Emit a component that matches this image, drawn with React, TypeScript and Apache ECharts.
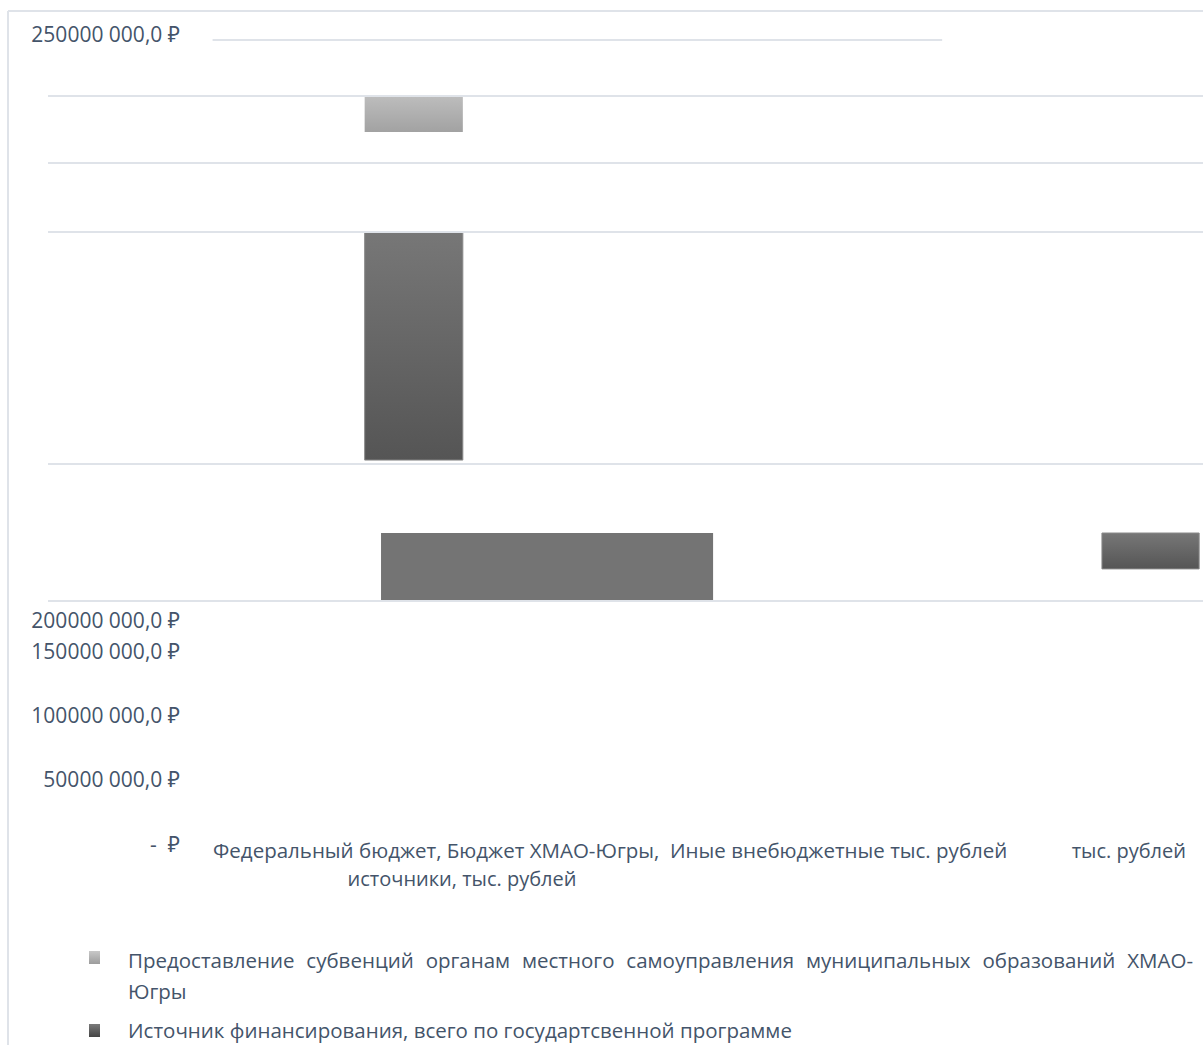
import React, { useEffect, useRef } from "react";
import * as echarts from "echarts";

// Series names (legend)
const seriesNames = [
  "Предоставление субвенций органам местного самоуправления муниципальных образований ХМАО-Югры",
  "Источник финансирования, всего по государтсвенной программе",
];

// Value-axis tick labels, as printed on the left
const yTickLabels = ["250000 000,0 ₽", "200000 000,0 ₽", "150000 000,0 ₽", "100000 000,0 ₽", "50000 000,0 ₽", "-  ₽"];

// Category labels: first row (left run and right-hand fragment) and the wrapped second row
const categoryRow1 = ["Федеральный бюджет, Бюджет ХМАО-Югры,  Иные внебюджетные тыс. рублей", "тыс. рублей"];
const categoryRow2 = ["источники, тыс. рублей"];

// Bars: [slot start, slot end, low value, high value] (rubles)
const subventionBars = [[3.29, 4.31, 209.0e6, 224.6e6]];
const totalBars = [
  [3.29, 4.31, 62.8e6, 164.4e6],
  [10.95, 11.96, 14.3e6, 30.3e6],
];
const blockBars = [[3.46, 6.91, 0, 30.3e6]];

// Horizontal gridlines (rubles) and the short top rule
const gridValues = [225.0e6, 195.2e6, 164.4e6, 61.1e6, 0];
const topRule = { value: 250e6, from: 1.71, to: 9.29 };

const TEXT = "#44546a";
const FONT = '"Open Sans", "Noto Sans", sans-serif';
const LEGEND_SIZE = 20.5;
const CAT_SIZE = 20.5;

function measure(text: string, font: string): number {
  const c = document.createElement("canvas").getContext("2d")!;
  c.font = font;
  return c.measureText(text).width;
}

// Lay out a justified line as individual word texts
function justified(text: string, x0: number, x1: number, y: number, size: number) {
  const font = `${size}px ${FONT}`;
  const words = text.split(" ");
  const widths = words.map((w) => measure(w, font));
  const total = widths.reduce((a, b) => a + b, 0);
  const gap = (x1 - x0 - total) / (words.length - 1);
  let x = x0;
  return words.map((w, i) => {
    const el = {
      type: "text",
      x,
      y,
      style: { text: w, fill: TEXT, font, verticalAlign: "middle" },
    };
    x += widths[i] + gap;
    return el;
  });
}

const grad = (top: string, bottom: string) =>
  new echarts.graphic.LinearGradient(0, 0, 0, 1, [
    { offset: 0, color: top },
    { offset: 1, color: bottom },
  ]);

function rectSeries(name: string, data: number[][], fill: any, stroke: string | null) {
  return {
    type: "custom",
    name,
    data,
    silent: true,
    renderItem: (_p: any, api: any) => {
      const a = api.coord([api.value(0), api.value(3)]);
      const b = api.coord([api.value(1), api.value(2)]);
      return {
        type: "rect",
        shape: { x: a[0], y: a[1], width: b[0] - a[0], height: b[1] - a[1] },
        style: { fill, stroke: stroke || "none", lineWidth: stroke ? 1 : 0 },
      };
    },
  };
}

export default function App() {
  const ref = useRef<HTMLDivElement>(null);

  useEffect(() => {
    const chart = echarts.init(ref.current!, null, { renderer: "svg" });

    const yLabelPos = [34, 620, 651, 715, 779, 844];
    const [legendHead, legendTail] = [
      seriesNames[0].slice(0, seriesNames[0].lastIndexOf("-") + 1),
      seriesNames[0].slice(seriesNames[0].lastIndexOf("-") + 1),
    ];

    const graphic: any[] = [
      { type: "line", shape: { x1: 8, y1: 11, x2: 1203, y2: 11 }, style: { stroke: "#dfe3e9", lineWidth: 2 } },
      { type: "line", shape: { x1: 8, y1: 11, x2: 8, y2: 1045 }, style: { stroke: "#dfe3e9", lineWidth: 2 } },
      ...yTickLabels.map((t, i) => ({
        type: "text",
        x: 180,
        y: yLabelPos[i],
        style: { text: t, fill: TEXT, font: `21px ${FONT}`, align: "right", verticalAlign: "middle" },
      })),
      {
        type: "text",
        x: 213,
        y: 850,
        style: { text: categoryRow1[0], fill: TEXT, font: `${CAT_SIZE}px ${FONT}`, verticalAlign: "middle" },
      },
      {
        type: "text",
        x: 1186,
        y: 850,
        style: { text: categoryRow1[1], fill: TEXT, font: `20px ${FONT}`, align: "right", verticalAlign: "middle" },
      },
      ...categoryRow2.map((t) => ({
        type: "text",
        x: 462,
        y: 878,
        style: { text: t, fill: TEXT, font: `20px ${FONT}`, align: "center", verticalAlign: "middle" },
      })),
      // legend
      {
        type: "rect",
        shape: { x: 89, y: 951, width: 11, height: 13 },
        style: { fill: grad("#c8c8c8", "#9c9c9c") },
      },
      ...justified(legendHead, 128, 1193, 960, LEGEND_SIZE),
      {
        type: "text",
        x: 128,
        y: 991,
        style: { text: legendTail, fill: TEXT, font: `${LEGEND_SIZE}px ${FONT}`, verticalAlign: "middle" },
      },
      {
        type: "rect",
        shape: { x: 89, y: 1024, width: 11, height: 13 },
        style: { fill: grad("#7a7a7a", "#444444") },
      },
      {
        type: "text",
        x: 128,
        y: 1030,
        style: { text: seriesNames[1], fill: TEXT, font: `${LEGEND_SIZE}px ${FONT}`, verticalAlign: "middle" },
      },
    ];

    chart.setOption({
      animation: false,
      backgroundColor: "#ffffff",
      grid: { left: 48, right: 0, top: 40, bottom: 444 },
      xAxis: { type: "value", min: 0, max: 12, show: false },
      yAxis: { type: "value", min: 0, max: 250e6, show: false },
      series: [
        {
          type: "line",
          data: [],
          silent: true,
          markLine: {
            silent: true,
            symbol: "none",
            label: { show: false },
            lineStyle: { color: "#dfe3e9", width: 2, type: "solid" },
            data: [
              ...gridValues.map((v) => [
                { coord: [0, v] },
                { coord: [12, v] },
              ]),
              [{ coord: [topRule.from, topRule.value] }, { coord: [topRule.to, topRule.value] }],
            ],
          },
        },
        rectSeries(seriesNames[0], subventionBars, grad("#bcbcbc", "#a2a2a2"), null),
        rectSeries(seriesNames[1], totalBars, grad("#777777", "#555555"), "#8a8a8a"),
        rectSeries(seriesNames[1], blockBars, "#747474", null),
      ],
      graphic,
    });

    return () => chart.dispose();
  }, []);

  return (
    <div
      ref={ref}
      style={{ position: "absolute", left: 0, top: 0, width: 1203, height: 1045, background: "#fff" }}
    />
  );
}
